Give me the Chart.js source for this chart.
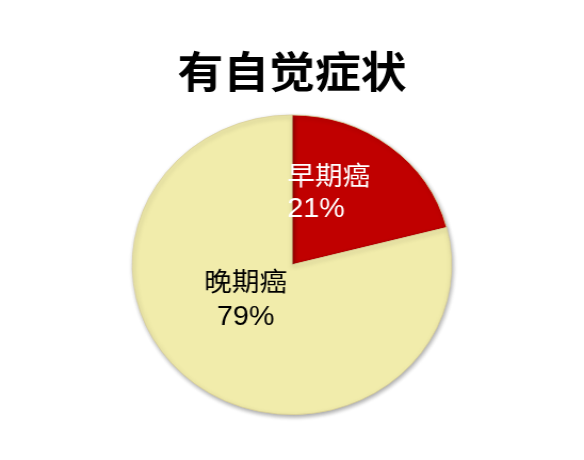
<!DOCTYPE html>
<html>
<head>
<meta charset="utf-8">
<script src="https://cdn.jsdelivr.net/npm/chart.js@4"></script>
<style>
  html, body { margin: 0; padding: 0; background: #fff; overflow: hidden; }
  #wrap { position: absolute; left: 0; top: 0; width: 548px; height: 460px;
          transform: scaleX(1.0657); transform-origin: 0 0; }
</style>
</head>
<body>
<div id="wrap"><canvas id="c"></canvas></div>
<script>
const titleText = '有自觉症状';
const categories = ['早期癌', '晚期癌'];
const values = [21, 79];
const sliceColors = ['#C00000', '#F1ECAB'];
const labelColors = ['#FFFFFF', '#000000'];

// label placement relative to arc center, as fractions of the outer radius
const labelAnchors = [
  { fx: -0.03, fy: -0.58, fy2: -0.37, align: 'left' },
  { fx: -0.29, fy: 0.13, fy2: 0.355, align: 'center' }
];

const sliceLabels = {
  id: 'sliceLabels',
  afterDatasetsDraw(chart) {
    const ctx = chart.ctx;
    const meta = chart.getDatasetMeta(0);
    const total = values.reduce((a, b) => a + b, 0);
    meta.data.forEach((arc, i) => {
      const r = arc.outerRadius;
      const a = labelAnchors[i];
      const x = arc.x + a.fx * r;
      ctx.save();
      ctx.fillStyle = labelColors[i];
      ctx.textAlign = a.align;
      ctx.textBaseline = 'middle';
      ctx.font = '26px "Liberation Sans", "Noto Sans CJK SC", sans-serif';
      ctx.fillText(categories[i], x, arc.y + a.fy * r);
      ctx.font = '27px "Liberation Sans", "Noto Sans CJK SC", sans-serif';
      ctx.fillText(Math.round(values[i] / total * 100) + '%', x, arc.y + a.fy2 * r);
      ctx.restore();
    });
  }
};

const pieShadow = {
  id: 'pieShadow',
  beforeDatasetsDraw(chart) {
    const ctx = chart.ctx;
    ctx.save();
    ctx.shadowColor = 'rgba(0,0,0,0.35)';
    ctx.shadowBlur = 4;
    ctx.shadowOffsetX = 1;
    ctx.shadowOffsetY = 2;
  },
  afterDatasetsDraw(chart) {
    chart.ctx.restore();
  }
};

new Chart(document.getElementById('c'), {
  type: 'pie',
  data: {
    labels: categories,
    datasets: [{
      data: values,
      backgroundColor: sliceColors,
      borderColor: '#D9CF98',
      borderWidth: 0.8
    }]
  },
  options: {
    responsive: true,
    maintainAspectRatio: false,
    animation: false,
    layout: { padding: { top: 0, bottom: 45, left: 0, right: 0 } },
    plugins: {
      legend: { display: false },
      tooltip: { enabled: false },
      title: {
        display: true,
        text: titleText,
        color: '#000',
        font: { size: 43, weight: 'bold', family: '"Noto Sans CJK SC", sans-serif', lineHeight: 1.2 },
        padding: { top: 46, bottom: 17 }
      }
    }
  },
  plugins: [pieShadow, sliceLabels]
});
</script>
</body>
</html>
